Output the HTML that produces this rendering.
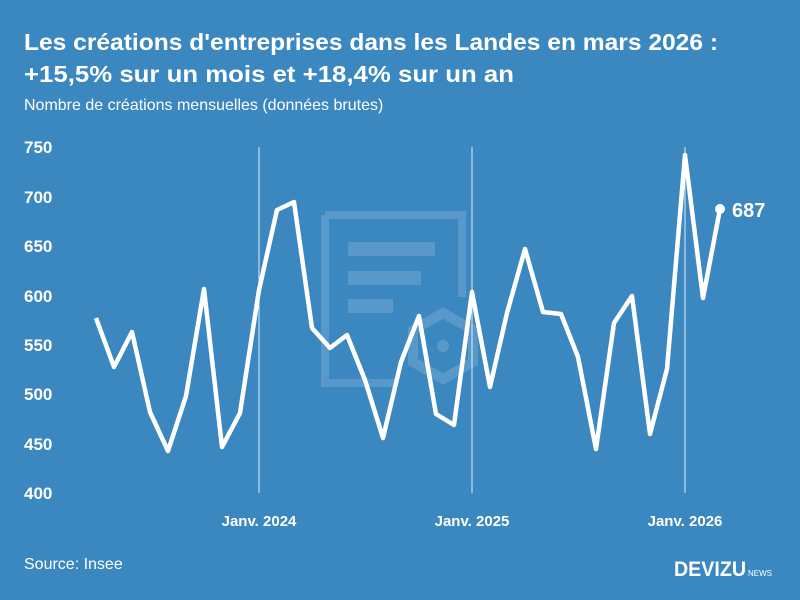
<!DOCTYPE html>
<html><head><meta charset="utf-8"><style>
body{margin:0;width:800px;height:600px;background:#3b87c0;overflow:hidden;font-family:"Liberation Sans",sans-serif;color:#fff}
</style></head><body>
<svg width="800" height="600" xmlns="http://www.w3.org/2000/svg" style="position:absolute;left:0;top:0">
<rect width="800" height="600" fill="#3b87c0"/>
<text x="24" y="50" font-family="Liberation Sans" font-weight="bold" font-size="23" fill="#fff" textLength="694" lengthAdjust="spacingAndGlyphs">Les créations d'entreprises dans les Landes en mars 2026 :</text>
<text x="24" y="82" font-family="Liberation Sans" font-weight="bold" font-size="23" fill="#fff" textLength="490" lengthAdjust="spacingAndGlyphs">+15,5% sur un mois et +18,4% sur un an</text>
<text x="24" y="110" font-family="Liberation Sans" font-size="16" fill="#fff">Nombre de créations mensuelles (données brutes)</text>
<g opacity="0.15" fill="none" stroke="#fff">
<path d="M325 215 H462 V297 M325 215 V383 H395" stroke-width="8"/>
<rect x="348" y="242" width="87" height="14" fill="#fff" stroke="none"/>
<rect x="348" y="271" width="73" height="14" fill="#fff" stroke="none"/>
<rect x="348" y="299" width="45" height="14" fill="#fff" stroke="none"/>
<polygon points="443,313 473,330 473,362 443,379 413,362 413,330" stroke-width="10"/>
<circle cx="443" cy="346" r="6" fill="#fff" stroke="none"/>
</g>
<g stroke="#fff" stroke-width="1" opacity="0.85">
<line x1="259" y1="147" x2="259" y2="493"/>
<line x1="472" y1="147" x2="472" y2="493"/>
<line x1="685" y1="147" x2="685" y2="493"/>
</g>
<g font-family="Liberation Sans" font-weight="bold" font-size="17" fill="#fff">
<text x="24" y="153">750</text><text x="24" y="203">700</text><text x="24" y="252">650</text>
<text x="24" y="302">600</text><text x="24" y="351">550</text><text x="24" y="400">500</text>
<text x="24" y="450">450</text><text x="24" y="499">400</text>
</g>
<g font-family="Liberation Sans" font-weight="bold" font-size="15" fill="#fff" text-anchor="middle">
<text x="259" y="526">Janv. 2024</text><text x="472" y="526">Janv. 2025</text><text x="685" y="526">Janv. 2026</text>
</g>
<polyline fill="none" stroke="#fff" stroke-width="4.5" stroke-linejoin="round" points="96,318 114,367 132,332 150,412 168,451 186,396 204,289 222,447 240,413 259,290 277,210 294,202 312,328 330,348 347,335 365,380 383,438 401,362 419,316 436,414 454,425 472,292 490,387 507,313 525,249 543,312 561,314 578,357 596,449 614,323 632,296 650,434 667,369 685,155 703,298 720,209"/>
<circle cx="720" cy="209" r="5" fill="#fff"/>
<text x="732" y="217" font-family="Liberation Sans" font-weight="bold" font-size="20" fill="#fff">687</text>
<text x="24" y="569" font-family="Liberation Sans" font-size="16" fill="#fff">Source: Insee</text>
<text x="674" y="576" font-family="Liberation Sans" font-weight="bold" font-size="21" fill="#fff" textLength="72" lengthAdjust="spacingAndGlyphs">DEVIZU</text>
<text x="748" y="576" font-family="Liberation Sans" font-size="8" fill="#fff">NEWS</text>
</svg>
</body></html>
